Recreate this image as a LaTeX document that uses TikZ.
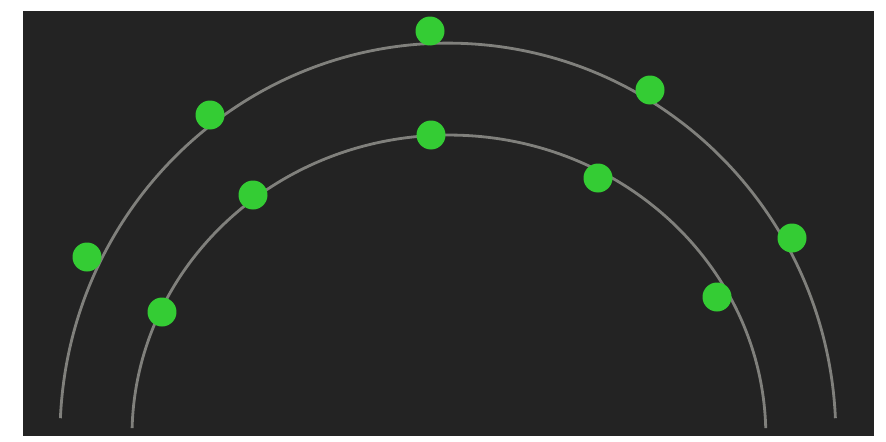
\documentclass[tikz,border=0pt]{standalone}
\usepackage{xcolor}
\usepackage{tikz}
\usetikzlibrary{
	positioning,
	calc
}

\definecolor{panelgray}{RGB}{35,35,35}
\definecolor{ringgray}{RGB}{128,128,124}
\definecolor{dotgreen}{RGB}{52,204,52}

\begin{document}
\begin{tikzpicture}[
				x=0.02cm, y=0.02cm,
				panel/.style={
					fill=panelgray
				},
				ring/.style={
					draw=ringgray, line width=1.6pt
				},
				greendot/.style={
					circle, fill=dotgreen, inner sep=0pt,
					minimum size=0.58cm
				}
				]
				
				% page
				\useasboundingbox (0,0) rectangle (886,441);
				
				% dark panel
				\fill[panel] (23,5) rectangle (874,430);
				
				% outer arc
				\draw[ring] (60.4,22.8) arc[start angle=177.4, end angle=2.6, x radius=7.76cm, y radius=7.86cm];
				
				% inner arc
				\draw[ring] (132.1,12.9) arc[start angle=178.5, end angle=1.5, x radius=6.34cm, y radius=6.02cm];
				
				% dots on the outer arc
				\node[greendot] (outerLeft)    at (87,184)  {};
				\node[greendot] (outerUpLeft)  at (210,326) {};
				\node[greendot] (outerTop)     at (430,410) {};
				\node[greendot] (outerUpRight) at (650,351) {};
				\node[greendot] (outerRight)   at (792,203) {};
				
				% dots on the inner arc
				\node[greendot] (innerLeft)    at (162,129) {};
				\node[greendot] (innerUpLeft)  at (253,246) {};
				\node[greendot] (innerTop)     at (431,306) {};
				\node[greendot] (innerUpRight) at (598,263) {};
				\node[greendot] (innerRight)   at (717,144) {};
			\end{tikzpicture}
\end{document}
